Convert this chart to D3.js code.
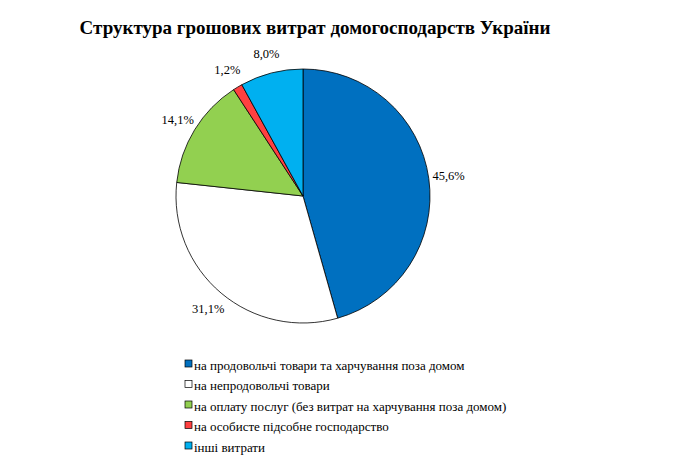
<!DOCTYPE html>
<html><head><meta charset="utf-8">
<script src="https://cdn.jsdelivr.net/npm/d3@7.9.0/dist/d3.min.js"></script>
<style>body{margin:0;background:#fff}svg text{font-family:"Liberation Serif","DejaVu Serif",serif}</style>
</head><body><svg width="690" height="459"></svg>
<script>
// Chart data
const categories = [
  "на продовольчі товари та харчування поза домом",
  "на непродовольчі товари",
  "на оплату послуг (без витрат на харчування поза домом)",
  "на особисте підсобне господарство",
  "інші витрати"
];
const shares = [45.6, 31.1, 14.1, 1.2, 8.0];
const colorList = ["#0070c0", "#ffffff", "#92d050", "#ff4040", "#00b0f0"];

const svg = d3.select("svg");
const color = d3.scaleOrdinal().domain(categories).range(colorList);

svg.append("text").attr("x", 315).attr("y", 34).attr("text-anchor", "middle")
  .attr("font-size", 19).attr("font-weight", "bold").text("Структура грошових витрат домогосподарств України");

const cx = 303, cy = 196, r = 127;
const pie = d3.pie().sort(null).value(d => d.v);
const arcs = pie(categories.map((c, i) => ({ c, v: shares[i] })));
const arc = d3.arc().innerRadius(0).outerRadius(r);
const g = svg.append("g").attr("transform", `translate(${cx},${cy})`);

g.selectAll("path").data(arcs).join("path")
  .attr("d", arc).attr("fill", d => color(d.data.c))
  .attr("stroke", "#000").attr("stroke-width", 0.8);

// Labels outside each slice
const labelArc = d3.arc().innerRadius(r + 20).outerRadius(r + 20);
g.selectAll("text").data(arcs).join("text")
  .attr("transform", d => {
    const [x, y] = labelArc.centroid(d);
    return `translate(${x},${y})`;
  })
  .attr("text-anchor", "middle").attr("dy", "0.35em").attr("font-size", 12.5)
  .text(d => d.data.v.toFixed(1).replace(".", ",") + "%");

// Legend
const legend = svg.append("g").attr("transform", "translate(185,366)");
categories.forEach((c, i) => {
  const row = legend.append("g").attr("transform", `translate(0,${i * 20.5})`);
  row.append("rect").attr("x", 0).attr("y", -6).attr("width", 7).attr("height", 7)
    .attr("fill", color(c)).attr("stroke", "#000").attr("stroke-width", 0.7);
  row.append("text").attr("x", 9).attr("y", 0).attr("dy", "0.3em").attr("font-size", 13).text(c);
});
</script></body></html>
